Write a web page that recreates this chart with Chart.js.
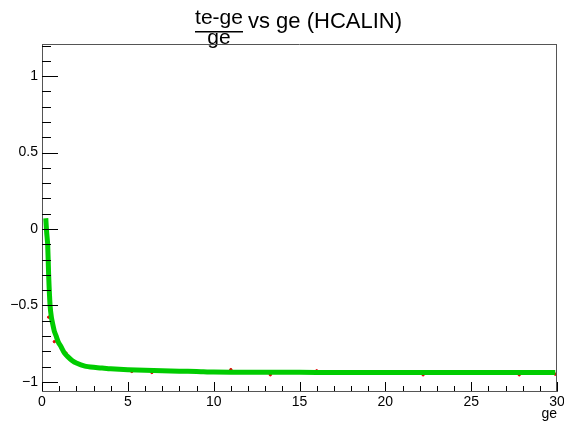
<!DOCTYPE html>
<html>
<head>
<meta charset="utf-8">
<script src="https://cdn.jsdelivr.net/npm/chart.js@4"></script>
<style>
  html, body { margin: 0; padding: 0; background: #fff; }
  #wrap { width: 564px; height: 423px; }
</style>
</head>
<body>
<div id="wrap"><canvas id="resChart"></canvas></div>
<script>
// ge values and (te-ge)/ge
var geVals = [0.22, 0.27, 0.33, 0.39, 0.47, 0.55, 0.62, 0.72, 0.82, 0.95, 1.11, 1.3, 1.5, 1.75, 2.0, 2.5, 3.0, 3.5, 4.0, 5.0, 6.0, 7.0, 8.0, 9.0, 10, 12, 14, 16, 18, 20, 22, 24, 26, 28, 29.9];
var ratioVals = [0.07, -0.02, -0.10, -0.31, -0.50, -0.58, -0.62, -0.67, -0.70, -0.74, -0.77, -0.81, -0.835, -0.86, -0.877, -0.897, -0.905, -0.91, -0.915, -0.921, -0.925, -0.927, -0.93, -0.932, -0.936, -0.937, -0.937, -0.939, -0.939, -0.939, -0.939, -0.939, -0.939, -0.939, -0.939];

// stray red error marks poking out of the band
var redGe = [0.39, 0.72, 1.01, 1.4, 5.23, 6.4, 11, 13.3, 16.0, 22.2, 27.8, 29.9];
var redRatio = [-0.577, -0.737, -0.758, -0.812, -0.932, -0.939, -0.92, -0.954, -0.928, -0.954, -0.954, -0.95];

var xTicks = [0, 5, 10, 15, 20, 25, 30];
var yTicks = [-1, -0.5, 0, 0.5, 1];
var xMinorStep = 1;
var yMinorStep = 0.1;

function toPoints(xs, ys) {
    return xs.map(function (x, i) { return { x: x, y: ys[i] }; });
}

function fmt(v) {
    return String(v).replace('-', '\u2212');
}

// ROOT style ticks drawn inside the frame
var innerTicks = {
    id: 'innerTicks',
    afterDatasetsDraw: function (chart) {
        var c = chart.ctx, a = chart.chartArea;
        var xs = chart.scales.x, ys = chart.scales.y;
        c.save();
        c.strokeStyle = '#000';
        c.lineWidth = 1;
        c.beginPath();
        for (var v = xs.min; v <= xs.max + 1e-9; v += xMinorStep) {
            var px = Math.round(xs.getPixelForValue(v)) + 0.5;
            var major = xTicks.indexOf(Math.round(v)) >= 0;
            c.moveTo(px, a.bottom);
            c.lineTo(px, a.bottom - (major ? 9 : 5));
        }
        var start = Math.ceil(ys.min / yMinorStep) * yMinorStep;
        for (var w = start; w <= ys.max + 1e-9; w += yMinorStep) {
            var py = Math.round(ys.getPixelForValue(w)) + 0.5;
            var isMajor = yTicks.some(function (t) { return Math.abs(t - w) < 1e-6; });
            c.moveTo(a.left, py);
            c.lineTo(a.left + (isMajor ? 16 : 9), py);
        }
        c.stroke();
        c.restore();
    },
    afterDraw: function (chart) {
        var c = chart.ctx, a = chart.chartArea;
        c.save();
        c.fillStyle = '#000';
        // title: fraction (te-ge)/ge then the rest
        c.font = '21px "Liberation Sans", Arial, sans-serif';
        c.textAlign = 'center';
        c.textBaseline = 'alphabetic';
        c.fillText('te-ge', 219, 24);
        c.fillText('ge', 219, 44);
        c.fillRect(195, 31, 48, 1.5);
        c.font = '22px "Liberation Sans", Arial, sans-serif';
        c.textAlign = 'left';
        c.fillText('vs ge (HCALIN)', 248, 28);
        // x axis title
        c.font = '14px "Liberation Sans", Arial, sans-serif';
        c.textAlign = 'right';
        c.fillText('ge', a.right, 418);
        c.restore();
    }
};

var ctx = document.getElementById('resChart').getContext('2d');
var resChart = new Chart(ctx, {
    type: 'scatter',
    data: {
        datasets: [
            {
                label: 'red marks',
                data: toPoints(redGe, redRatio),
                backgroundColor: '#e00000',
                borderColor: '#e00000',
                pointRadius: 1.2,
                pointHoverRadius: 0,
                order: 2
            },
            {
                label: '(te-ge)/ge',
                data: toPoints(geVals, ratioVals),
                showLine: true,
                borderColor: '#00cc00',
                borderWidth: 5,
                pointRadius: 0,
                tension: 0.2,
                order: 1
            }
        ]
    },
    options: {
        responsive: true,
        maintainAspectRatio: false,
        animation: false,
        layout: { padding: { top: 44, right: 7, left: 0, bottom: 0 } },
        plugins: {
            legend: { display: false },
            tooltip: { enabled: false },
            title: { display: false }
        },
        scales: {
            x: {
                type: 'linear',
                min: 0,
                max: 30,
                afterBuildTicks: function (s) { s.ticks = xTicks.map(function (v) { return { value: v }; }); },
                afterFit: function (s) { s.height = 32; s.paddingLeft = 0; s.paddingRight = 0; },
                ticks: {
                    color: '#000',
                    font: { family: '"Liberation Sans", Arial, sans-serif', size: 14 },
                    padding: 3,
                    maxRotation: 0,
                    callback: function (v) { return fmt(v); }
                },
                grid: { display: true, drawOnChartArea: false, drawTicks: false },
                border: { display: true, color: '#555', width: 1 }
            },
            y: {
                type: 'linear',
                min: -1.06,
                max: 1.21,
                afterBuildTicks: function (s) { s.ticks = yTicks.map(function (v) { return { value: v }; }); },
                afterFit: function (s) { s.width = 42; s.paddingTop = 0; s.paddingBottom = 0; },
                ticks: {
                    color: '#000',
                    font: { family: '"Liberation Sans", Arial, sans-serif', size: 14 },
                    padding: 4,
                    callback: function (v) { return fmt(v); }
                },
                grid: { display: true, drawOnChartArea: false, drawTicks: false },
                border: { display: true, color: '#555', width: 1 }
            }
        }
    },
    plugins: [innerTicks, {
        id: 'frame',
        afterDraw: function (chart) {
            var c = chart.ctx, a = chart.chartArea;
            c.save();
            c.strokeStyle = '#555';
            c.lineWidth = 1;
            c.beginPath();
            c.moveTo(a.left, Math.round(a.top) + 0.5);
            c.lineTo(a.right, Math.round(a.top) + 0.5);
            c.moveTo(Math.round(a.right) - 0.5, a.top);
            c.lineTo(Math.round(a.right) - 0.5, a.bottom);
            c.stroke();
            c.restore();
        }
    }]
});
</script>
</body>
</html>
